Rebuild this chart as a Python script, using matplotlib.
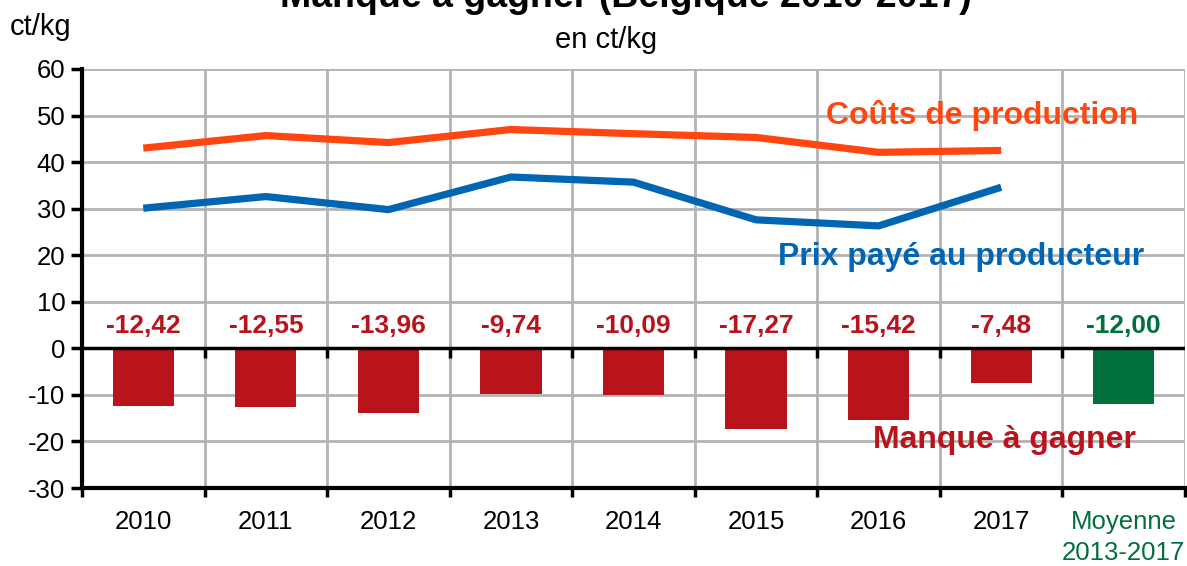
import matplotlib.pyplot as plt
import numpy as np

plt.rcParams["font.family"] = ["Liberation Sans", "DejaVu Sans"]
plt.rcParams["axes.unicode_minus"] = False

categories = ["2010", "2011", "2012", "2013", "2014", "2015", "2016", "2017", "Moyenne\n2013-2017"]
couts = [43.0, 45.7, 44.2, 47.0, 46.1, 45.3, 42.1, 42.5]
prix = [30.1, 32.6, 29.8, 36.8, 35.7, 27.6, 26.3, 34.6]
manque = [-12.42, -12.55, -13.96, -9.74, -10.09, -17.27, -15.42, -7.48, -12.00]
manque_labels = ["-12,42", "-12,55", "-13,96", "-9,74", "-10,09", "-17,27", "-15,42", "-7,48", "-12,00"]

ORANGE = "#ff4611"
BLUE = "#0066b3"
RED = "#b9141c"
GREEN = "#00703c"
GRID = "#b3b3b3"

W, H = 1187, 566
fig = plt.figure(figsize=(W / 100, H / 100), dpi=100)
ax = fig.add_axes([82 / W, 1 - 488 / H, 1103 / W, 419 / H])

x = np.arange(len(categories))
bar_colors = [RED] * (len(categories) - 1) + [GREEN]
ax.bar(x, manque, width=0.5, color=bar_colors, zorder=3)

for xi, lab, c in zip(x, manque_labels, bar_colors):
    ax.text(xi, 3.2, lab, ha="center", va="baseline", fontsize=19, fontweight="bold", color=c, zorder=4)

xl = x[: len(couts)]
ax.plot(xl, couts, color=ORANGE, lw=5.2, zorder=4, solid_capstyle="butt")
ax.plot(xl, prix, color=BLUE, lw=5.2, zorder=4, solid_capstyle="butt")

ax.set_xlim(-0.5, len(categories) - 0.5)
ax.set_ylim(-30, 60)
ax.set_yticks(np.arange(-30, 61, 10))
ax.tick_params(axis="y", labelsize=18.5, length=8, width=2.5, direction="out", pad=4)
ax.grid(axis="y", color=GRID, lw=2, zorder=0)

boundaries = np.arange(-0.5, len(categories), 1.0)
for b in boundaries[1:]:
    ax.axvline(b, color=GRID, lw=2, zorder=0)
ax.set_xticks(boundaries)
ax.set_xticklabels([])
ax.tick_params(axis="x", which="major", length=6.5, width=2.5, direction="out")
ax.set_xticks(x, minor=True)
ax.set_xticklabels(categories, minor=True, linespacing=1.35)
ax.tick_params(axis="x", which="minor", length=0, labelsize=18.5, pad=16)
ax.get_xticklabels(minor=True)[-1].set_color(GREEN)

ax.axhline(0, color="black", lw=2.5, zorder=5)
ax.vlines(boundaries[1:-1], -2, 0, color="black", lw=2.5, zorder=5)

for side in ["top", "right"]:
    ax.spines[side].set_visible(False)
for side in ["left", "bottom"]:
    ax.spines[side].set_linewidth(3)

ax.text(8.116, 48.1, "Coûts de production", ha="right", va="baseline", fontsize=23, fontweight="bold", color=ORANGE)
ax.text(8.166, 18.0, "Prix payé au producteur", ha="right", va="baseline", fontsize=23, fontweight="bold", color=BLUE)
ax.text(8.10, -21.5, "Manque à gagner", ha="right", va="baseline", fontsize=23, fontweight="bold", color=RED)

fig.text(626 / W, 1 - 7 / H, "Manque à gagner (Belgique 2010-2017)", ha="center", va="baseline",
         fontsize=27, fontweight="bold")
fig.text(40.5 / W, 1 - 35 / H, "ct/kg", ha="center", va="baseline", fontsize=21)
fig.text(606 / W, 1 - 48 / H, "en ct/kg", ha="center", va="baseline", fontsize=21)

fig.savefig("out.png", dpi=100)
